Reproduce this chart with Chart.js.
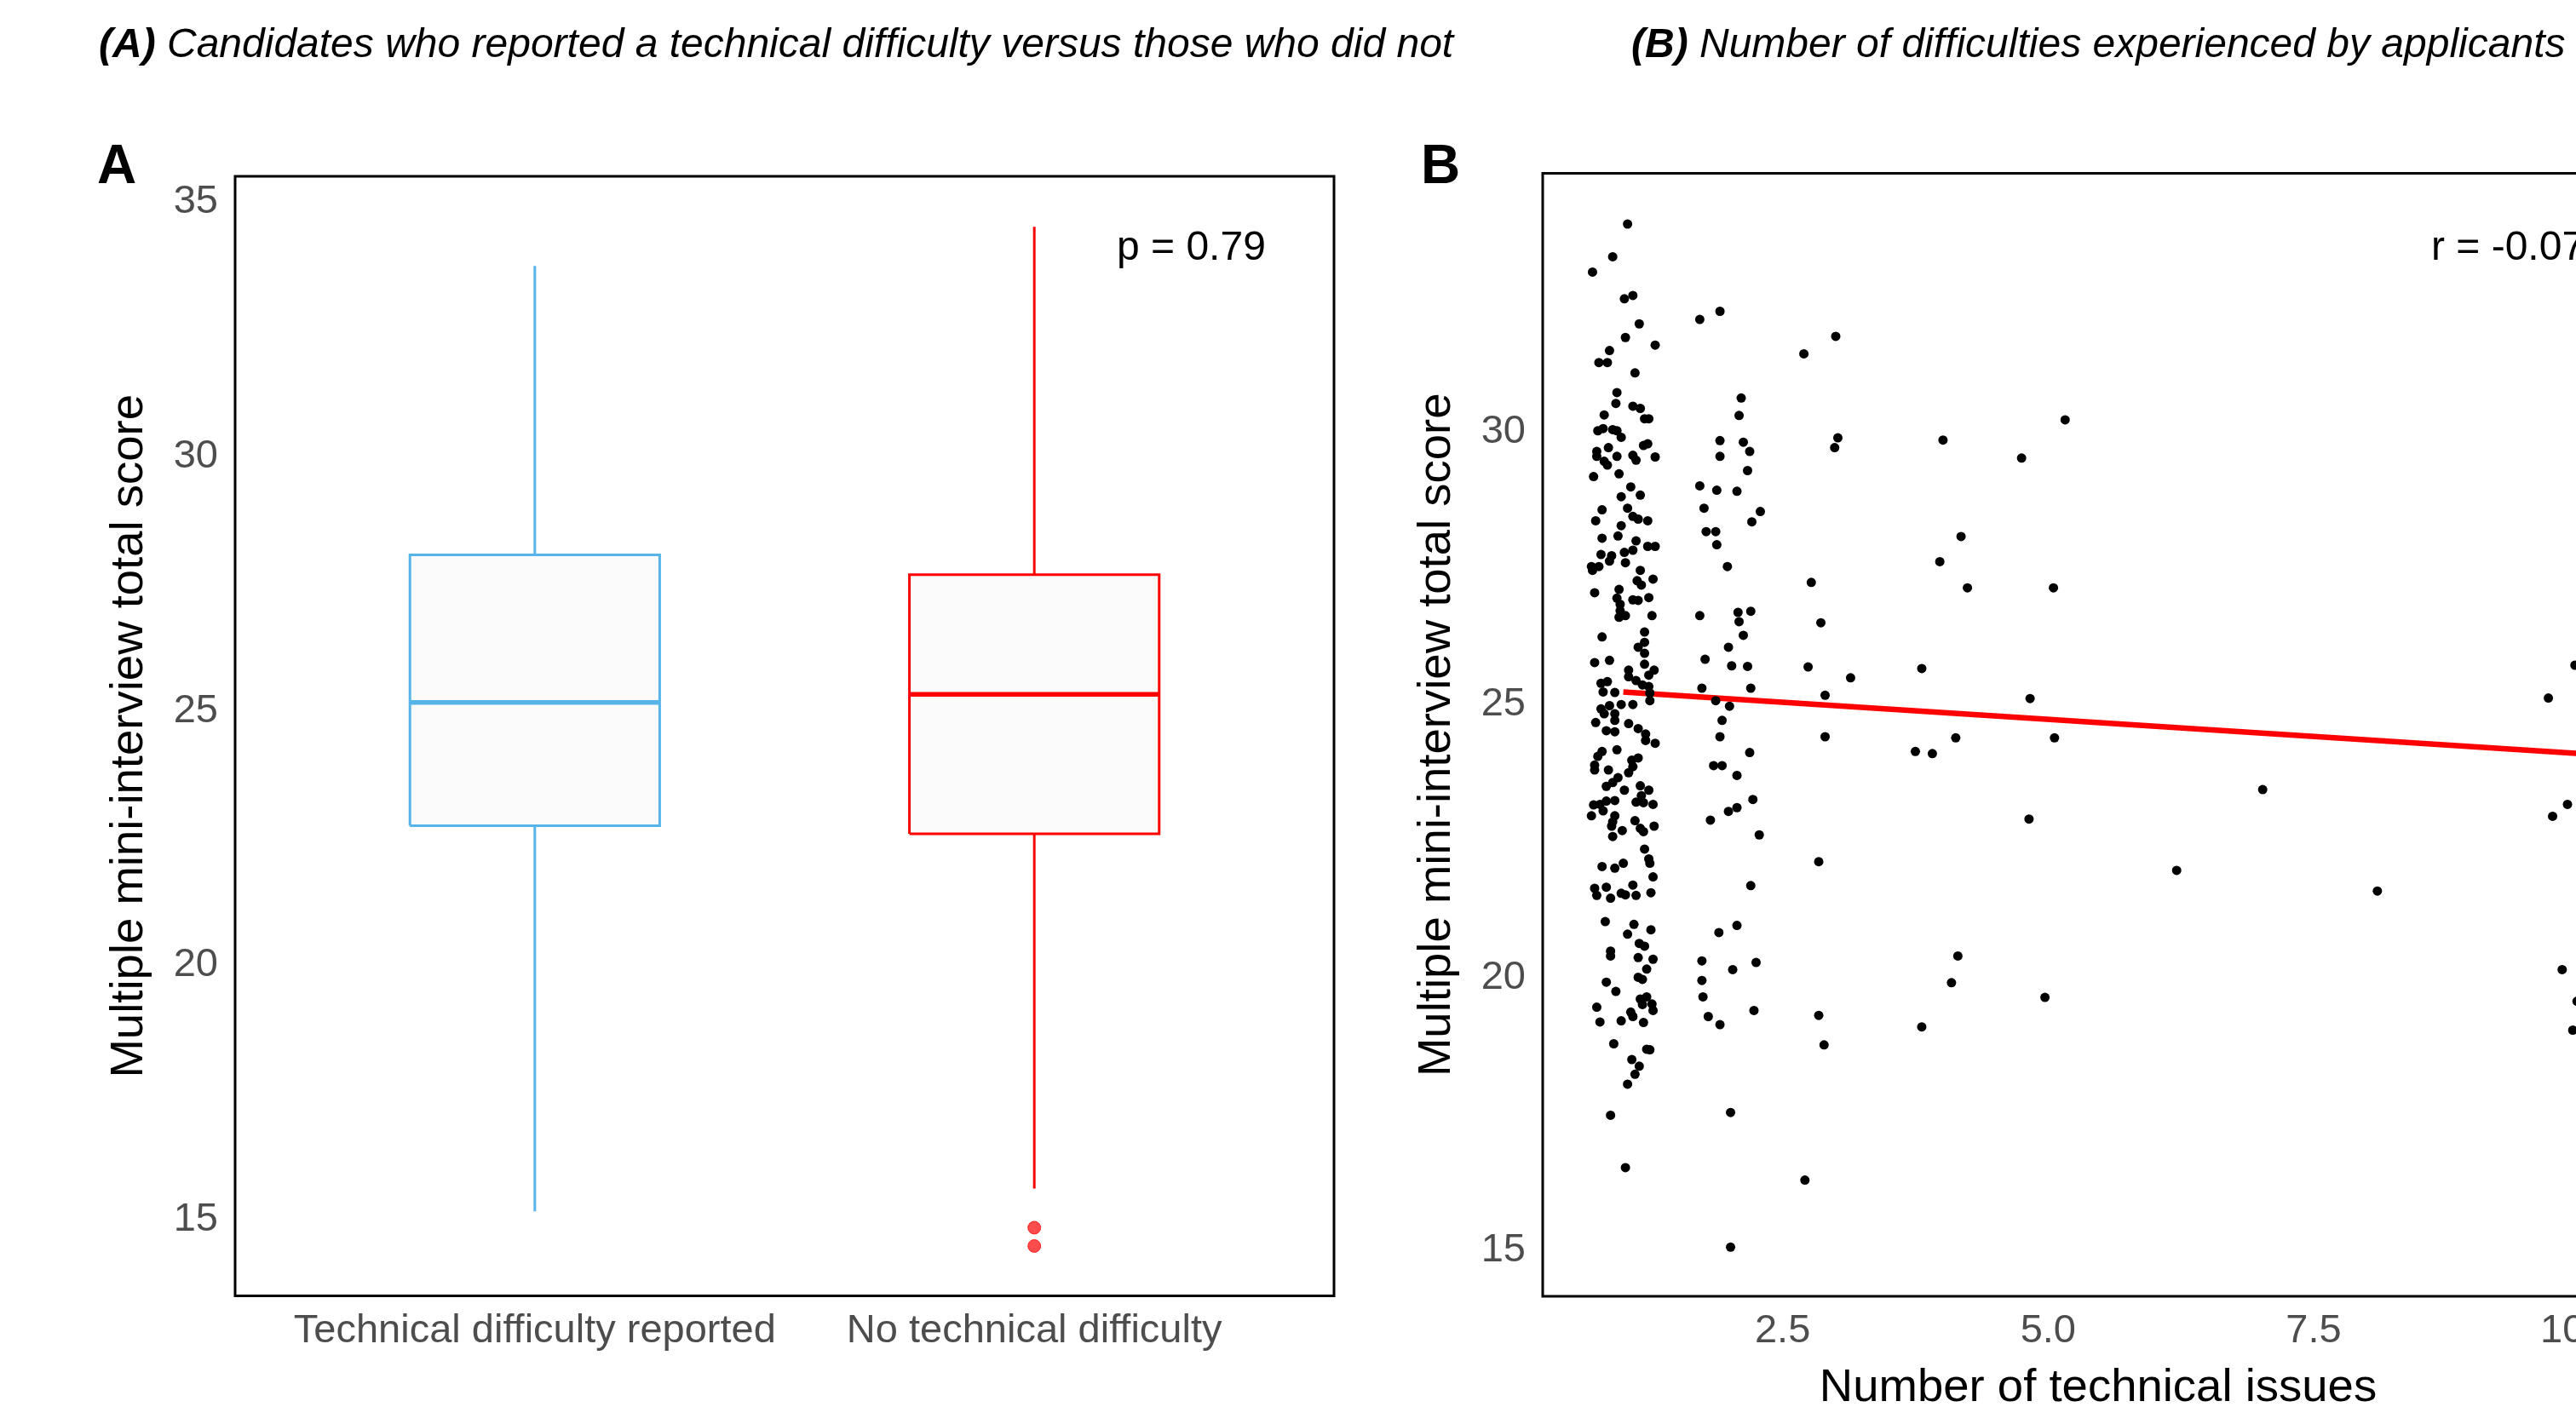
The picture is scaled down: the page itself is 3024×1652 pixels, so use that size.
<!DOCTYPE html>
<html>
<head>
<meta charset="utf-8">
<script src="https://cdn.jsdelivr.net/npm/chart.js@4.4.1/dist/chart.umd.min.js"></script>
<style>
html,body{margin:0;padding:0;background:#fff;overflow:hidden;width:3024px;height:1652px;}
body{position:relative;font-family:"Liberation Sans",Arial,Helvetica,sans-serif;}
.wrap{position:absolute;top:0;}
.t{position:absolute;white-space:nowrap;line-height:1;color:#000;z-index:2;font-family:"Liberation Sans",Arial,Helvetica,sans-serif;}
</style>
</head>
<body>
<div class="t" style="left:116px;top:27px;font-size:48px;font-style:italic;"><b>(A)</b> Candidates who reported a technical difficulty versus those who did not</div>
<div class="t" style="left:1915px;top:27px;font-size:48px;font-style:italic;"><b>(B)</b> Number of difficulties experienced by applicants</div>
<div class="t" style="left:114px;top:161px;font-size:64px;font-weight:bold;">A</div>
<div class="t" style="left:1668px;top:161px;font-size:64px;font-weight:bold;">B</div>
<div class="t" style="left:1311px;top:265px;font-size:48px;">p = 0.79</div>
<div class="t" style="left:2854px;top:265px;font-size:48px;">r = -0.07</div>

<div class="wrap" style="left:0px;width:1640px;height:1700px;"><canvas id="ca" width="1640" height="1700"></canvas></div>
<div class="wrap" style="left:1640px;width:1560px;height:1700px;"><canvas id="cb" width="1560" height="1700"></canvas></div>

<script>
// ---------- Panel A data ----------
const categories = ['Technical difficulty reported', 'No technical difficulty'];
const whiskerLow  = [15.10, 15.55];
const q1          = [22.68, 22.52];
const medians     = [25.10, 25.26];
const q3          = [28.00, 27.61];
const whiskerHigh = [33.68, 34.45];
const outlierScores = [[], [14.78, 14.42]];
const yTicksA = [15, 20, 25, 30, 35];

// ---------- Panel B data ----------
// [number of technical issues (jittered as plotted), MMI total score]
const scatterPoints = [
[1.04,33.75],[0.90,33.15],[0.71,32.87],[1.09,32.44],[1.01,32.38],[1.15,31.92],[1.02,31.67],[1.30,31.53],
[0.87,31.43],[0.77,31.21],[0.85,31.21],[1.11,31.02],[0.94,30.66],[0.93,30.46],[1.09,30.41],[1.16,30.37],
[0.82,30.25],[1.20,30.18],[1.24,30.18],[0.76,29.96],[0.81,30.00],[0.90,29.98],[0.94,29.96],[0.98,29.84],
[1.19,29.69],[1.23,29.72],[0.86,29.65],[0.75,29.58],[0.75,29.49],[0.82,29.40],[0.85,29.33],[0.94,29.49],
[1.09,29.51],[1.12,29.42],[1.30,29.48],[0.72,29.12],[0.96,29.17],[1.07,28.93],[0.98,28.75],[1.16,28.78],
[0.80,28.51],[1.04,28.54],[0.74,28.31],[1.09,28.39],[1.14,28.34],[1.23,28.31],[0.98,28.22],[0.80,27.99],
[0.95,28.03],[1.12,27.94],[1.09,27.77],[1.23,27.84],[1.30,27.84],[0.79,27.69],[0.89,27.67],[1.01,27.73],
[0.87,27.57],[1.02,27.54],[0.70,27.47],[0.77,27.47],[0.71,27.40],[1.16,27.40],[1.28,27.24],[1.13,27.21],
[1.17,27.13],[0.73,26.99],[0.96,27.05],[0.94,26.89],[1.09,26.86],[1.14,26.85],[1.24,26.90],[0.97,26.78],
[0.97,26.66],[1.02,26.57],[0.96,26.54],[1.27,26.57],[1.20,26.27],[0.80,26.18],[1.20,26.08],[1.14,25.99],
[1.20,25.88],[1.20,25.68],[0.73,25.71],[0.87,25.75],[1.29,25.57],[1.24,25.48],[1.05,25.57],[1.05,25.45],
[1.12,25.38],[0.79,25.33],[0.85,25.36],[1.18,25.30],[1.24,25.27],[0.81,25.17],[0.92,25.16],[1.25,25.15],
[1.25,25.01],[0.79,24.86],[0.87,24.92],[0.98,24.94],[1.09,24.94],[0.82,24.77],[0.92,24.77],[0.92,24.65],
[0.74,24.61],[1.05,24.59],[0.84,24.46],[0.92,24.44],[1.14,24.50],[1.21,24.40],[1.21,24.28],[1.30,24.23],
[0.94,24.11],[0.80,24.08],[0.76,23.99],[1.14,23.96],[1.08,23.92],[0.73,23.83],[1.09,23.80],[0.73,23.74],
[0.86,23.74],[1.05,23.69],[0.95,23.60],[0.90,23.51],[1.16,23.45],[0.84,23.44],[1.01,23.37],[1.24,23.37],
[1.17,23.27],[0.92,23.18],[0.84,23.17],[1.12,23.15],[1.19,23.14],[1.28,23.11],[0.72,23.10],[0.78,23.11],
[0.81,22.99],[0.70,22.90],[0.92,22.90],[0.90,22.79],[1.11,22.81],[0.89,22.71],[0.99,22.63],[1.16,22.67],
[1.19,22.61],[1.29,22.71],[0.90,22.52],[1.20,22.29],[1.24,22.11],[1.25,22.03],[0.80,21.97],[0.92,21.94],
[1.00,22.03],[1.28,21.78],[0.73,21.57],[0.84,21.59],[0.75,21.44],[0.88,21.39],[0.98,21.48],[1.02,21.45],
[1.09,21.63],[1.12,21.44],[1.26,21.49],[0.83,20.96],[1.10,20.91],[1.04,20.73],[1.26,20.81],[1.15,20.56],
[1.20,20.51],[0.88,20.42],[0.88,20.33],[1.14,20.30],[1.28,20.27],[1.22,20.09],[1.14,19.94],[1.18,19.90],
[0.84,19.85],[0.93,19.68],[1.16,19.54],[1.22,19.58],[1.18,19.44],[1.27,19.45],[1.28,19.33],[0.75,19.39],
[1.07,19.30],[1.09,19.22],[0.78,19.12],[0.98,19.14],[1.19,19.11],[0.91,18.72],[1.22,18.62],[1.25,18.61],
[1.08,18.43],[1.15,18.31],[1.11,18.16],[1.04,17.98],[0.88,17.41],[1.02,16.45],
[1.72,32.00],[1.91,32.15],[2.11,30.56],[2.09,30.24],[1.91,29.78],[2.13,29.75],[2.19,29.58],[1.91,29.49],
[2.17,29.23],[1.72,28.95],[1.88,28.87],[2.07,28.85],[1.76,28.54],[2.29,28.48],[2.21,28.29],[1.78,28.11],
[1.87,28.11],[1.88,27.87],[1.98,27.47],[1.72,26.57],[2.08,26.63],[2.20,26.65],[2.09,26.46],[2.13,26.21],
[1.99,25.99],[1.77,25.77],[2.02,25.65],[2.17,25.64],[1.74,25.24],[2.20,25.24],[1.87,25.01],[2.00,24.91],
[1.93,24.65],[1.91,24.35],[2.19,24.06],[1.85,23.82],[1.93,23.82],[2.07,23.64],
[2.22,23.20],[1.99,22.98],[2.07,23.05],[1.82,22.82],[2.28,22.55],[2.20,21.62],[2.07,20.89],[1.90,20.76],
[1.74,20.24],[2.25,20.21],[2.03,20.08],[1.74,19.88],[1.75,19.58],[2.23,19.33],[1.80,19.22],[1.91,19.07],
[2.01,17.46],[2.01,14.99],
[2.70,31.37],[3.00,31.69],[3.02,29.83],[2.99,29.65],[4.01,29.79],[5.16,30.16],[4.75,29.46],[4.18,28.02],
[3.98,27.56],[2.77,27.18],[4.24,27.08],[5.05,27.08],[2.86,26.44],[2.74,25.63],[3.81,25.60],[3.14,25.43],
[2.90,25.11],[4.83,25.05],[9.71,25.06],[9.96,25.66],[2.90,24.35],[4.13,24.33],[5.06,24.33],[3.75,24.08],
[3.91,24.04],[7.02,23.38],[9.89,23.11],[9.75,22.89],[4.82,22.84],[2.84,22.06],[6.21,21.90],[8.10,21.52],
[4.15,20.33],[9.84,20.08],[4.09,19.84],[4.97,19.57],[9.98,19.50],[2.84,19.24],[9.94,18.97],[3.81,19.03],
[2.89,18.70],[2.71,16.22]
];
const fitX = [1, 10];
const fitY = [25.17, 24.04];
const xTicksB = [2.5, 5.0, 7.5, 10.0];
const yTicksB = [15, 20, 25, 30];

// ---------- styles ----------
const FONT = '"Liberation Sans", Arial, Helvetica, sans-serif';
const TICK_COLOR = '#4D4D4D';
const TICK_SIZE = 47;
const TITLE_SIZE = 54.5;
const boxColors = ['#56B4E9', '#FF0000'];

const framePlugin = {
  id: 'frame',
  afterDatasetsDraw(chart) {
    const {ctx, chartArea: a} = chart;
    ctx.save();
    ctx.strokeStyle = '#000';
    ctx.lineWidth = 3;
    ctx.strokeRect(a.left, a.top, a.right - a.left, a.bottom - a.top);
    ctx.restore();
  }
};

const lineDs = (data, color, width) => ({
  data, showLine: true, borderColor: color, borderWidth: width,
  pointRadius: 0, pointHoverRadius: 0, fill: false, tension: 0,
  borderCapStyle: 'butt', borderJoinStyle: 'miter'
});

// ---------- Panel A ----------
const dsA = [];
const halfW = 0.25;
categories.forEach((c, i) => {
  const pos = i + 1;
  dsA.push({
    data: outlierScores[i].map(v => ({x: pos, y: v})),
    showLine: false, pointRadius: 7.5, pointHoverRadius: 7.5,
    backgroundColor: i === 1 ? 'rgba(255,0,0,0.7)' : 'rgba(86,180,233,0.7)',
    borderColor: i === 1 ? 'rgba(255,0,0,0.75)' : 'rgba(86,180,233,0.75)', borderWidth: 1
  });
  dsA.push(lineDs([{x: pos - halfW, y: medians[i]}, {x: pos + halfW, y: medians[i]}], boxColors[i], 5.5));
  dsA.push(lineDs([{x: pos, y: q3[i]}, {x: pos, y: whiskerHigh[i]}], boxColors[i], 3));
  dsA.push(lineDs([{x: pos, y: whiskerLow[i]}, {x: pos, y: q1[i]}], boxColors[i], 3));
  const box = lineDs([
    {x: pos - halfW, y: q1[i]}, {x: pos + halfW, y: q1[i]},
    {x: pos + halfW, y: q3[i]}, {x: pos - halfW, y: q3[i]}, {x: pos - halfW, y: q1[i]}
  ], boxColors[i], 3);
  box.fill = 'shape';
  box.backgroundColor = '#FBFBFB';
  dsA.push(box);
});

new Chart(document.getElementById('ca'), {
  type: 'scatter',
  data: {datasets: dsA},
  plugins: [framePlugin],
  options: {
    responsive: false, maintainAspectRatio: false, animation: false, devicePixelRatio: 1,
    layout: {padding: {left: 0, right: 74, top: 207, bottom: 0}},
    plugins: {legend: {display: false}, tooltip: {enabled: false}},
    scales: {
      x: {
        type: 'linear', min: 0.4, max: 2.6,
        grid: {display: false, drawTicks: false}, border: {display: false},
        afterFit: s => { s.height = 178.5; },
        afterBuildTicks: s => { s.ticks = categories.map((c, i) => ({value: i + 1})); },
        ticks: {
          padding: 13, color: TICK_COLOR, font: {family: FONT, size: TICK_SIZE}, autoSkip: false, maxRotation: 0,
          callback: v => categories[Math.round(v) - 1] || ''
        }
      },
      y: {
        type: 'linear', min: 13.44, max: 35.44,
        grid: {display: false, drawTicks: false}, border: {display: false},
        afterFit: s => { s.width = 276; },
        afterBuildTicks: s => { s.ticks = yTicksA.map(v => ({value: v})); },
        ticks: {padding: 20, labelOffset: 4, color: TICK_COLOR, font: {family: FONT, size: TICK_SIZE}, callback: v => String(v)},
        title: {display: true, text: 'Multiple mini-interview total score', color: '#000',
                font: {family: FONT, size: TITLE_SIZE}, padding: {top: 119.5, bottom: 0}}
      }
    }
  }
});

// ---------- Panel B ----------
new Chart(document.getElementById('cb'), {
  type: 'scatter',
  data: {datasets: [
    {
      data: scatterPoints.map(p => ({x: p[0], y: p[1]})),
      pointRadius: 5.5, pointHoverRadius: 5.5, backgroundColor: '#000', borderColor: '#000', borderWidth: 0
    },
    lineDs(fitX.map((x, i) => ({x, y: fitY[i]})), '#FF0000', 6.5)
  ]},
  plugins: [framePlugin],
  options: {
    responsive: false, maintainAspectRatio: false, animation: false, devicePixelRatio: 1,
    layout: {padding: {left: 0, right: 85, top: 203.5, bottom: 0}},
    plugins: {legend: {display: false}, tooltip: {enabled: false}},
    scales: {
      x: {
        type: 'linear', min: 0.241, max: 10.70,
        grid: {display: false, drawTicks: false}, border: {display: false},
        afterFit: s => { s.height = 178; },
        afterBuildTicks: s => { s.ticks = xTicksB.map(v => ({value: v})); },
        ticks: {padding: 13, color: TICK_COLOR, font: {family: FONT, size: TICK_SIZE}, autoSkip: false, maxRotation: 0,
                callback: v => Number(v).toFixed(1)},
        title: {display: true, text: 'Number of technical issues', color: '#000',
                font: {family: FONT, size: TITLE_SIZE}, padding: {top: 0, bottom: 37.5}}
      },
      y: {
        type: 'linear', min: 14.09, max: 34.68,
        grid: {display: false, drawTicks: false}, border: {display: false},
        afterFit: s => { s.width = 171; },
        afterBuildTicks: s => { s.ticks = yTicksB.map(v => ({value: v})); },
        ticks: {padding: 20, labelOffset: 4, color: TICK_COLOR, font: {family: FONT, size: TICK_SIZE}, callback: v => String(v)},
        title: {display: true, text: 'Multiple mini-interview total score', color: '#000',
                font: {family: FONT, size: TITLE_SIZE}, padding: {top: 14.5, bottom: 0}}
      }
    }
  }
});
</script>
</body>
</html>
